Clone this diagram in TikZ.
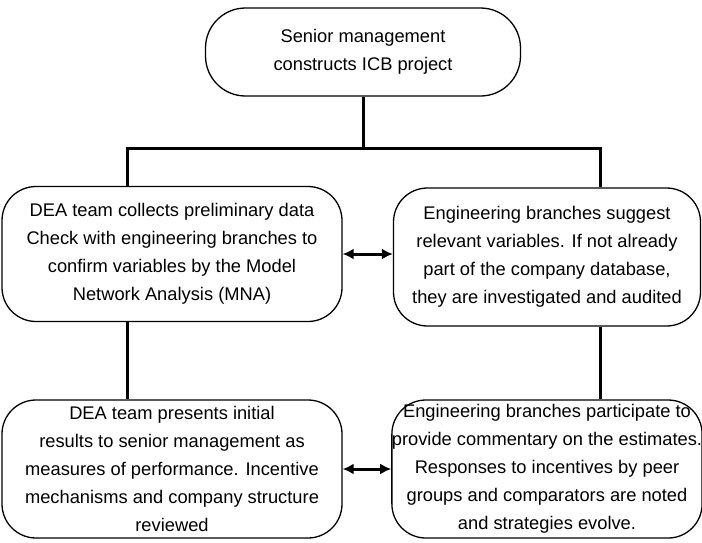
\documentclass[tikz,border=0pt]{standalone}
\usepackage{fontspec}
\setmainfont{Liberation Sans}
\usetikzlibrary{positioning,arrows.meta}
\begin{document}
\begin{tikzpicture}[
                    x=1pt, y=-1pt,
                    >={Latex[length=11pt,width=11pt]},
                    stage/.style={draw, rectangle, rounded corners=34pt, line width=1.3pt, align=center,
                                  font=\fontsize{18.3}{28}\selectfont, inner sep=0pt},
                    link/.style={line width=3pt},
                    pair/.style={<->, line width=3pt}
                    ]
    \useasboundingbox (0,0) rectangle (702,542);

    \node [stage, rounded corners=40pt, minimum width=315pt, minimum height=88pt] (top) at (363,52) {Senior management\\constructs ICB project};
    \node [stage, minimum width=340pt, minimum height=135pt] (dea1) at (172,254) {DEA team collects preliminary data\\Check with engineering branches to\\confirm variables by the Model\\Network Analysis (MNA)};
    \node [stage, minimum width=307pt, minimum height=138pt] (eng1) at (547,257) {Engineering branches suggest\\relevant variables. If not already\\part of the company database,\\they are investigated and audited};
    \node [stage, minimum width=340pt, minimum height=138pt] (dea2) at (172,469) {DEA team presents initial\\results to senior management as\\measures of performance. Incentive\\mechanisms and company structure\\reviewed};
    \node [stage, minimum width=307pt, minimum height=138pt] (eng2) at (547,469) {Engineering branches participate to\\provide commentary on the estimates.\\Responses to incentives by peer\\groups and comparators are noted\\and strategies evolve.};

    \coordinate (split) at (363,148);
    \coordinate (jl) at (127,148);
    \coordinate (jr) at (600,148);

    \draw[link] (top) -- (split);
    \draw[link] (dea1.north -| jl) -- (jl) -- (jr) -- (eng1.north -| jr);
    \draw[link] (dea1.south -| jl) -- (dea2.north -| jl);
    \draw[link] (eng1.south -| jr) -- (eng2.north -| jr);

    \draw[pair] (dea1.east) -- (dea1.east -| eng1.west);
    \draw[pair] (dea2.east) -- (dea2.east -| eng2.west);
\end{tikzpicture}
\end{document}
